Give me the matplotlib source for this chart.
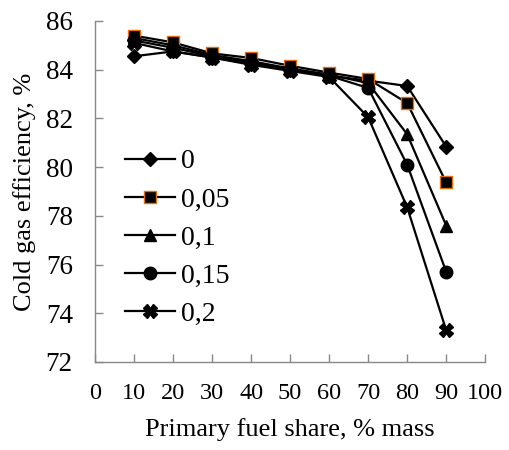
import matplotlib
matplotlib.use('Agg')
import matplotlib.pyplot as plt

plt.rcParams['font.family'] = ['Liberation Serif', 'DejaVu Serif']

share = [10, 20, 30, 40, 50, 60, 70, 80, 90]
labels = ['0', '0,05', '0,1', '0,15', '0,2']

eff_0 = [84.55, 84.75, 84.5, 84.25, 84.0, 83.75, 83.55, 83.33, 80.84]
eff_005 = [85.4, 85.12, 84.67, 84.48, 84.16, 83.88, 83.62, 82.63, 79.37]
eff_01 = [85.3, 85.0, 84.6, 84.35, 84.05, 83.8, 83.45, 81.35, 77.6]
eff_015 = [85.2, 84.9, 84.55, 84.3, 84.0, 83.75, 83.25, 80.1, 75.7]
eff_02 = [85.1, 84.75, 84.5, 84.2, 83.95, 83.7, 82.05, 78.35, 73.3]

series = [eff_0, eff_005, eff_01, eff_015, eff_02]
markers = ['D', 's', '^', 'o', 'X']
msizes = [7.5, 9, 9, 9, 10]
edges = ['black', '#E46C0A', 'black', 'black', 'black']

fig = plt.figure(figsize=(5.09, 4.5), dpi=100)
ax = fig.add_axes([0.1866, 0.1956, 0.7667, 0.7578])

for vals, lab, m, ms, ec in zip(series, labels, markers, msizes, edges):
    ax.plot(share, vals, color='black', lw=1.6, marker=m, markersize=ms,
            markerfacecolor='black', markeredgecolor=ec, markeredgewidth=1,
            label=lab)

ax.set_xlim(0, 100)
ax.set_ylim(72, 86)
ax.set_xticks(range(0, 101, 10))
ax.set_yticks(range(72, 87, 2))

for side in ['top', 'right']:
    ax.spines[side].set_visible(False)
for side in ['left', 'bottom']:
    ax.spines[side].set_color('#888888')
    ax.spines[side].set_linewidth(1)

ax.tick_params(axis='both', direction='in', length=6, width=1, color='#888888')
ax.tick_params(axis='x', pad=15, labelsize=17.5)
ax.tick_params(axis='y', pad=16, labelsize=19.5)

ax.set_xlabel('Primary fuel share, % mass', fontsize=19, labelpad=10)
ax.set_ylabel('Cold gas efficiency, %', fontsize=19, labelpad=7)

ax.legend(loc='upper left', bbox_to_anchor=(0.077, 0.625), frameon=False,
          fontsize=20, handlelength=1.8, handletextpad=0.2, labelspacing=0.46,
          borderpad=0, borderaxespad=0)

fig.savefig('out.png', dpi=100)
